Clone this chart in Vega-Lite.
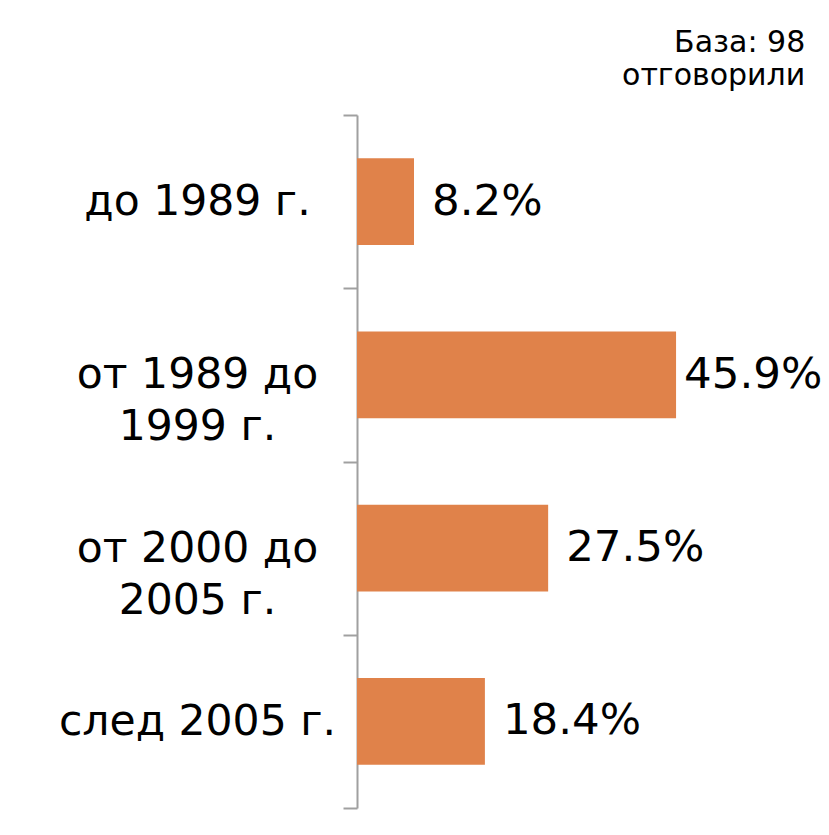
{
  "$schema": "https://vega.github.io/schema/vega-lite/v6.json",
  "width": 448,
  "height": 693,
  "autosize": "none",
  "padding": {"left": 357, "top": 115, "right": 24, "bottom": 27},
  "background": "white",
  "config": {"view": {"stroke": null}, "font": "DejaVu Sans"},
  "title": {
    "text": ["База: 98", "отговорили"],
    "anchor": "end",
    "font": "DejaVu Sans",
    "fontSize": 30,
    "fontWeight": "normal",
    "lineHeight": 33,
    "color": "#000000",
    "offset": 3,
    "dx": -17
  },
  "data": {
    "values": [
      {"period": "до 1989 г.", "share": 0.082},
      {"period": "от 1989 до|1999 г.", "share": 0.459},
      {"period": "от 2000 до|2005 г.", "share": 0.275},
      {"period": "след 2005 г.", "share": 0.184}
    ]
  },
  "encoding": {
    "y": {
      "field": "period",
      "type": "nominal",
      "sort": null,
      "scale": {"paddingInner": 0, "paddingOuter": 0},
      "axis": {
        "title": null,
        "domainColor": "#a0a0a0",
        "domainWidth": 2,
        "tickColor": "#a0a0a0",
        "tickWidth": 2,
        "tickSize": 14,
        "tickBand": "extent",
        "labelFont": "DejaVu Sans",
        "labelFontSize": 42.5,
        "labelColor": "#000000",
        "labelLineHeight": 52,
        "labelLimit": 400,
        "labelAlign": "center",
        "labelPadding": 146,
        "labelExpr": "split(datum.label, '|')"
      }
    },
    "x": {
      "field": "share",
      "type": "quantitative",
      "scale": {"domain": [0, 0.6445], "nice": false},
      "axis": null
    }
  },
  "layer": [
    {"mark": {"type": "bar", "color": "#E0824A", "height": {"band": 0.5}}},
    {
      "transform": [{"filter": "datum.share < 0.4"}],
      "mark": {"type": "text", "align": "left", "baseline": "middle", "font": "DejaVu Sans", "fontSize": 43.5, "color": "#000000", "dx": 18},
      "encoding": {"text": {"field": "share", "type": "quantitative", "format": ".1%"}}
    },
    {
      "transform": [{"filter": "datum.share >= 0.4"}],
      "mark": {"type": "text", "align": "left", "baseline": "middle", "font": "DejaVu Sans", "fontSize": 43.5, "color": "#000000", "dx": 8},
      "encoding": {"text": {"field": "share", "type": "quantitative", "format": ".1%"}}
    }
  ]
}
